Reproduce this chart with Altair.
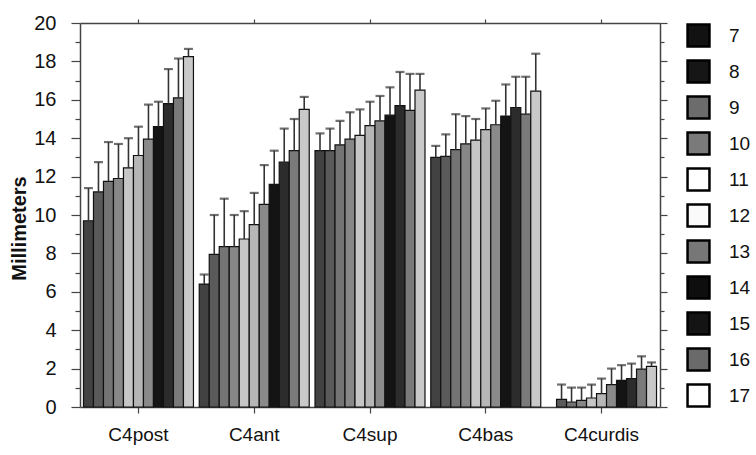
import altair as alt
import pandas as pd

regions = ["C4post", "C4ant", "C4sup", "C4bas", "C4curdis"]
series = ["7", "8", "9", "10", "11", "12", "13", "14", "15", "16", "17"]

post_mean = [9.7, 11.2, 11.75, 11.9, 12.45, 13.1, 13.95, 14.6, 15.8, 16.1, 18.25]
post_upper = [11.4, 12.75, 13.8, 13.7, 14.0, 14.6, 15.75, 15.9, 17.6, 18.15, 18.65]
ant_mean = [6.4, 7.95, 8.35, 8.35, 8.75, 9.5, 10.55, 11.6, 12.75, 13.35, 15.5]
ant_upper = [6.9, 10.0, 10.85, 10.0, 10.2, 11.15, 12.6, 13.35, 14.5, 15.0, 16.15]
sup_mean = [13.35, 13.35, 13.65, 13.95, 14.15, 14.65, 14.9, 15.2, 15.7, 15.45, 16.5]
sup_upper = [14.25, 14.5, 14.9, 15.35, 15.5, 15.9, 16.2, 16.65, 17.45, 17.35, 17.35]
bas_mean = [13.0, 13.05, 13.4, 13.7, 13.9, 14.45, 14.7, 15.15, 15.6, 15.25, 16.45]
bas_upper = [13.6, 14.2, 15.25, 15.15, 15.0, 15.55, 15.95, 16.8, 17.2, 17.2, 18.4]
curdis_mean = [None, 0.4, 0.26, 0.35, 0.47, 0.7, 1.17, 1.39, 1.48, 1.97, 2.12]
curdis_upper = [None, 1.17, 1.01, 1.01, 1.17, 1.48, 2.0, 2.18, 2.26, 2.64, 2.32]

bar_colors = ["#424242", "#5a5a5a", "#747474", "#878787", "#c6c6c6", "#b6b6b6",
              "#8a8a8a", "#141414", "#2c2c2c", "#7a7a7a", "#c9c9c9"]
legend_colors = ["#121212", "#161616", "#6c6c6c", "#7a7a7a", "#ffffff", "#fafafa",
                 "#777777", "#0e0e0e", "#141414", "#6a6a6a", "#ffffff"]

means = [post_mean, ant_mean, sup_mean, bas_mean, curdis_mean]
uppers = [post_upper, ant_upper, sup_upper, bas_upper, curdis_upper]

rows = []
for r, m, u in zip(regions, means, uppers):
    for s, mv, uv in zip(series, m, u):
        rows.append({"Region": r, "Series": s, "value": mv, "upper": uv})
df = pd.DataFrame(rows)

FONT = "Liberation Sans"
even = "datum.value % 2 === 0"

x_bottom = alt.X("Region:N", sort=regions, title=None,
                 scale=alt.Scale(paddingInner=0.05, paddingOuter=0.03),
                 axis=alt.Axis(orient="bottom", labelAngle=0, labelFontSize=19,
                               labelFont=FONT, labelColor="#111", tickSize=6,
                               labelPadding=12, domainColor="#444", domainWidth=1.5,
                               tickColor="#444", tickWidth=1.2))
y_left = alt.Y("value:Q", title="Millimeters",
               scale=alt.Scale(domain=[0, 20], nice=False, zero=True),
               axis=alt.Axis(orient="left", values=list(range(0, 21)),
                             labelExpr="datum.value % 2 === 0 ? datum.label : ''",
                             tickSize={"condition": {"test": even, "value": 9}, "value": 5},
                             labelPadding=15, labelFontSize=20, labelFont=FONT,
                             labelColor="#111", titleFont=FONT, titleFontSize=20,
                             titleFontWeight="bold", titleColor="#111", titlePadding=4,
                             titleY=205,
                             domainColor="#444", domainWidth=1.5, tickColor="#444",
                             tickWidth=1.2, grid=False))
xoff = alt.XOffset("Series:N", sort=series, scale=alt.Scale(domain=series))

bars = alt.Chart(df).mark_bar(stroke="#111", strokeWidth=1.2).encode(
    x=x_bottom,
    xOffset=xoff,
    y=y_left,
    color=alt.Color("Series:N", sort=series,
                    scale=alt.Scale(domain=series, range=bar_colors), legend=None),
)

err = alt.Chart(df).mark_rule(color="#333", strokeWidth=1.6).encode(
    x=alt.X("Region:N", sort=regions, axis=None),
    xOffset=xoff,
    y=alt.Y("value:Q", axis=None),
    y2="upper:Q",
)

caps = alt.Chart(df).mark_tick(color="#333", thickness=2.2, size=9).encode(
    x=alt.X("Region:N", sort=regions, axis=None),
    xOffset=xoff,
    y=alt.Y("upper:Q", axis=None),
)

frame = alt.Chart(df).transform_filter("false").mark_square(
    filled=True, stroke="black", strokeWidth=2.5
).encode(
    x=alt.X("Region:N", sort=regions, title=None,
            axis=alt.Axis(orient="top", labels=False, tickSize=4, domainColor="#444",
                          domainWidth=1.5, tickColor="#444", tickWidth=1.2)),
    y=alt.Y("value:Q", title=None,
            axis=alt.Axis(orient="right", values=list(range(0, 21)), labels=False,
                          tickSize={"condition": {"test": even, "value": 7}, "value": 4},
                          domainColor="#444", domainWidth=1.5, tickColor="#444",
                          tickWidth=1.2, grid=False)),
    color=alt.Color("Series:N", sort=series,
                    scale=alt.Scale(domain=series, range=legend_colors),
                    legend=alt.Legend(title=None, orient="right", offset=18,
                                      symbolType="square", symbolSize=480,
                                      symbolStrokeColor="black", symbolStrokeWidth=2.5,
                                      symbolOpacity=1, labelFontSize=19, labelFont=FONT,
                                      labelColor="#111", labelOffset=18, rowPadding=3)),
)

chart = alt.layer(bars, err, caps, frame).resolve_scale(
    color="independent"
).resolve_axis(
    x="independent", y="independent"
).properties(
    width=580, height=384,
    autosize=alt.AutoSizeParams(type="none"),
    padding={"left": 80, "top": 23, "right": 96, "bottom": 48},
    background="white",
).configure_view(stroke=None)

chart.save("out.html", embed_options={"renderer": "svg", "actions": False})
